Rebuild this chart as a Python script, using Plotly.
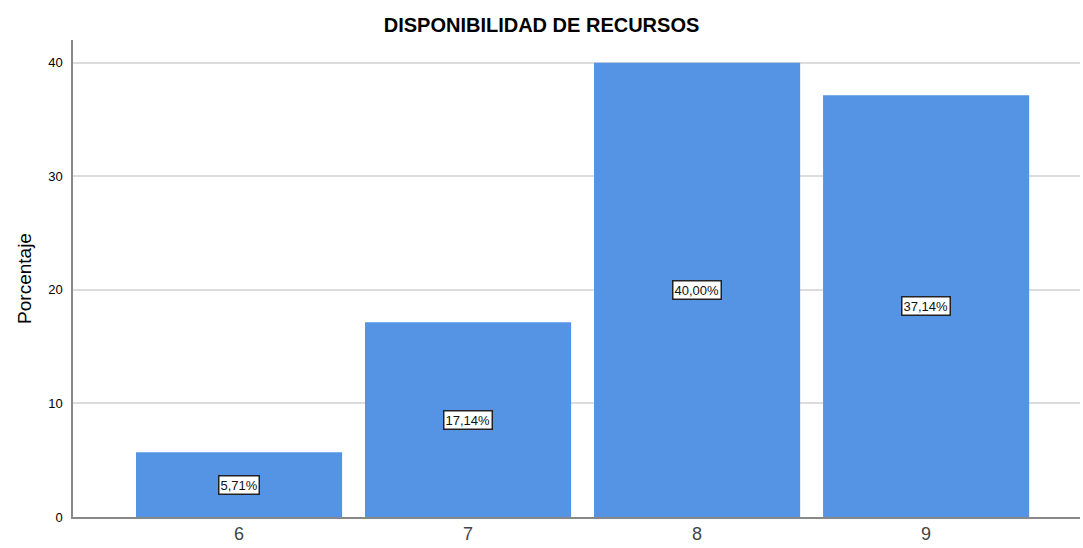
import plotly.graph_objects as go

categories = [6, 7, 8, 9]
percentages = [5.71, 17.14, 40.00, 37.14]
value_labels = ["5,71%", "17,14%", "40,00%", "37,14%"]
y_ticks = [0, 10, 20, 30, 40]

bar_color = "#5594E4"
font_family = "Liberation Sans, Arial, sans-serif"

fig = go.Figure(
    go.Bar(
        x=categories,
        y=percentages,
        width=0.9,
        marker=dict(color=bar_color, line=dict(width=0)),
        hoverinfo="skip",
    )
)

# Boxed value labels centred vertically within each bar
for cat, val, lab in zip(categories, percentages, value_labels):
    fig.add_annotation(
        x=cat, y=val / 2, text=lab, showarrow=False,
        font=dict(family=font_family, size=13, color="#111111"),
        bgcolor="white", bordercolor="#222222", borderwidth=1.5, borderpad=1,
    )

fig.update_layout(
    width=1083, height=548,
    margin=dict(l=73, r=3, t=40, b=31),
    paper_bgcolor="white", plot_bgcolor="white",
    showlegend=False,
    title=dict(
        text="<b>DISPONIBILIDAD DE RECURSOS</b>",
        x=0.5, xanchor="center", y=0.955, yanchor="middle",
        font=dict(family=font_family, size=20, color="black"),
    ),
    font=dict(family=font_family),
)

fig.update_xaxes(
    range=[5.275, 9.672],
    tickmode="array", tickvals=categories, ticktext=[str(c) for c in categories],
    tickfont=dict(size=18, color="#444444"),
    showline=True, linecolor="#888888", linewidth=1.5,
    showgrid=False, ticks="", zeroline=False,
)

fig.update_yaxes(
    range=[0, 42.0],
    tickmode="array", tickvals=y_ticks,
    tickfont=dict(size=13, color="black"),
    showline=True, linecolor="#888888", linewidth=1.5,
    showgrid=True, gridcolor="#DCDCDC", gridwidth=1.5,
    zeroline=False, ticks="", ticklabelstandoff=6,
    title=dict(text="Porcentaje", font=dict(size=19, color="black"), standoff=12),
)

fig.write_html("out.html")
